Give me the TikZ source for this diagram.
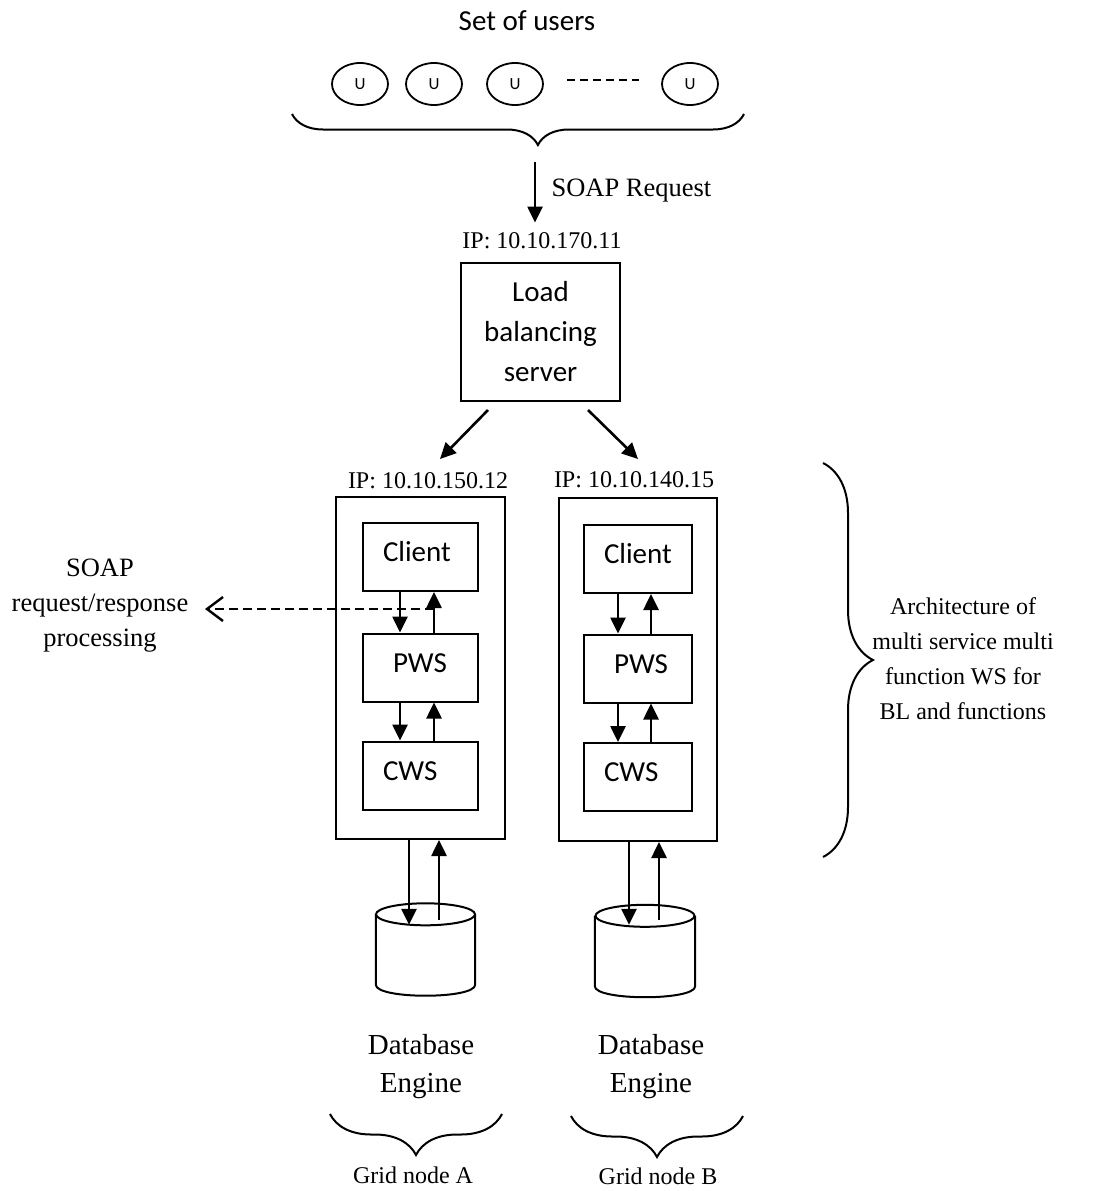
\documentclass[tikz,border=0pt]{standalone}
\usepackage{fontspec}
\setmainfont{Liberation Serif}
\newfontfamily\calfont{Carlito}
\usetikzlibrary{arrows.meta,decorations.pathreplacing,calc,shapes.geometric}

\begin{document}
\begin{tikzpicture}[x=1pt,y=-1pt,
  frame/.style={draw,line width=2pt,inner sep=0pt},
  sans/.style={font=\calfont\fontsize{29}{40}\selectfont},
  serifL/.style={font=\fontsize{29}{38}\selectfont},
  serifM/.style={font=\fontsize{26.5}{35}\selectfont},
  serifS/.style={font=\fontsize{24}{35}\selectfont},
  user/.style={draw,ellipse,line width=1.8pt,minimum width=56pt,minimum height=42pt,
    inner sep=0pt,font=\calfont\fontsize{17}{17}\selectfont},
  tier/.style={frame,sans,minimum height=68pt,inner xsep=20pt,align=left,
    text height=20pt,text depth=11pt},
  tierA/.style={tier,text width=75pt},
  tierB/.style={tier,text width=68pt},
  arr/.style={line width=2.6pt,-{Triangle[width=15pt,length=16pt]}},
  dasharr/.style={line width=2.4pt,dash pattern=on 9pt off 5pt,
    -{Straight Barb[length=16pt,width=24pt,line width=2.4pt]}},
  curly/.style={line width=2pt,decorate,decoration={brace,amplitude=#1}},
  dbbox/.style={inner sep=0pt,minimum width=99pt,minimum height=92pt},
]
\fill[white] (0,0) rectangle (1101,1191);
\useasboundingbox (0,0) rectangle (1101,1191);

% ---- users ----
\node[sans,anchor=base] (users) at (527,30) {Set of users};
\node[user] (u1) at (360,84) {U};
\node[user] (u2) at (434,84) {U};
\node[user] (u3) at (515,84) {U};
\node[user] (u4) at (690,84) {U};
\draw[line width=1.8pt,dash pattern=on 8pt off 5pt]
  ($(u3.east)+(23.5,-4)$) -- ($(u4.west)+(-22.5,-4)$);
\draw[curly=31pt,decoration={aspect=0.456}] (744,114) -- (292,114);
\coordinate (utip) at (537,145);

% ---- load balancer ----
\node[serifS,anchor=base] (ipLB) at (542,248) {IP: 10.10.170.11};
\node[serifM,anchor=base west] (soapReq) at (548,196) {SOAP Request};
\draw[arr] ($(utip)+(-2,17)$) -- ($(ipLB.north)+(-7,-6)$);
\node[frame,sans,align=center,minimum width=159pt,minimum height=138pt]
  (lb) at (540.5,332) {Load\\balancing\\server};

% ---- grid node A ----
\node[serifS,anchor=base] (ipA) at (428,488) {IP: 10.10.150.12};
\node[frame,minimum width=169pt,minimum height=342pt] (outerA) at (420.5,668) {};
\node[tierA] (clientA) at (420.5,557) {Client};
\node[tierA] (pwsA) at (420.5,667.5) {\hspace*{10pt}PWS};
\node[tierA] (cwsA) at (420.5,775.5) {CWS};

% ---- grid node B ----
\node[serifS,anchor=base] (ipB) at (634,487) {IP: 10.10.140.15};
\node[frame,minimum width=158pt,minimum height=343pt] (outerB) at (638,669.5) {};
\node[tierB] (clientB) at (638,559) {Client};
\node[tierB] (pwsB) at (638,668.5) {\hspace*{10pt}PWS};
\node[tierB] (cwsB) at (638,777) {CWS};

% balancer to grid nodes
\draw[arr] ($(lb.south)+(-52.5,8)$) -- ($(ipA.north)+(12,-9.5)$);
\draw[arr] ($(lb.south)+(47.5,8)$) -- ($(ipB.north)+(4,-8.5)$);

% request / response flow inside each grid node
\foreach \n/\dn/\up in {A/-20.5/13.5, B/-20/13} {
  \draw[arr] ([xshift=\dn]client\n.south) -- ([xshift=\dn]pws\n.north);
  \draw[arr] ([xshift=\up]pws\n.north) -- ([xshift=\up]client\n.south);
  \draw[arr] ([xshift=\dn]pws\n.south) -- ([xshift=\dn]cws\n.north);
  \draw[arr] ([xshift=\up]cws\n.north) -- ([xshift=\up]pws\n.south);
}

% SOAP processing note
\node[serifM,align=center,inner ysep=0pt,inner xsep=16.5pt] (soapLbl) at (100,606)
  {SOAP\\request/response\\processing};
\coordinate (tap) at ($(clientA.south)+(13.5,17)$);
\draw[dasharr] (tap) -- (soapLbl.east |- tap);

% ---- databases ----
\newcommand\dbdraw[1]{%
  \draw[line width=2pt] ($(#1.north west)+(0,11)$) -- ($(#1.south west)+(0,-11)$)
    .. controls +(0,14.7) and +(0,14.7) .. ($(#1.south east)+(0,-11)$)
    -- ($(#1.north east)+(0,11)$);
  \draw[line width=2pt] ($(#1.north)+(0,11)$) ellipse [x radius=49.5pt, y radius=11pt];}
\node[dbbox] (dbA) at (425.5,949.5) {};
\node[dbbox,minimum width=100pt] (dbB) at (645,951) {};
\dbdraw{dbA}
\dbdraw{dbB}

\draw[arr] ($(outerA.south)+(-11.5,0)$) -- ($(dbA.north)+(-16.5,21.5)$);
\draw[arr] ($(dbA.north)+(13.5,16.5)$) -- ($(outerA.south)+(18.5,0)$);
\draw[arr] ($(outerB.south)+(-9,0)$) -- ($(dbB.north)+(-16,20)$);
\draw[arr] ($(dbB.north)+(14,15)$) -- ($(outerB.south)+(21,0)$);

\node[serifL,align=center,inner sep=0pt] (engA) at (421,1067) {Database\\Engine};
\node[serifL,align=center,inner sep=0pt] (engB) at (651,1067) {Database\\Engine};

\draw[curly=41pt] (502,1114) -- (330,1114);
\draw[curly=41pt] (743,1116) -- (571,1116);
\node[serifS,anchor=base] (gridA) at (413,1183) {Grid node A};
\node[serifS,anchor=base] (gridB) at (658,1184) {Grid node B};

% ---- architecture note ----
\draw[curly=50pt] (823,463) -- (823,857);
\node[serifS,align=center,inner sep=0pt] (arch) at (963,659)
  {Architecture of\\multi service multi\\function WS for\\BL and functions};
\end{tikzpicture}
\end{document}
